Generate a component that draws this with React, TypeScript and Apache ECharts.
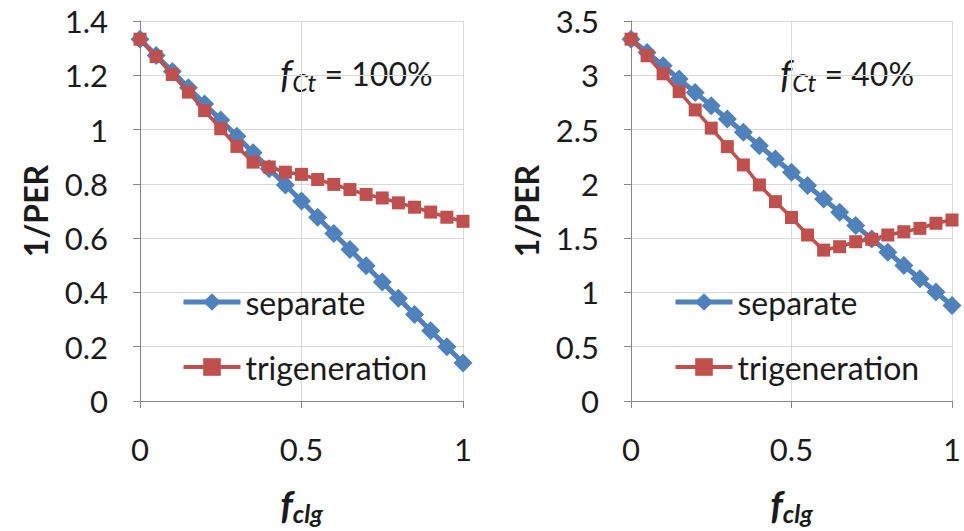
import React, { useEffect, useRef } from "react";
import * as echarts from "echarts";

// Cooling fraction f_clg (shared x values)
const fclg = [0, 0.05, 0.1, 0.15, 0.2, 0.25, 0.3, 0.35, 0.4, 0.45, 0.5, 0.55, 0.6, 0.65, 0.7, 0.75, 0.8, 0.85, 0.9, 0.95, 1];

// f_Ct = 100%
const separate100 = [1.333, 1.273, 1.214, 1.154, 1.094, 1.035, 0.975, 0.915, 0.856, 0.796, 0.737, 0.677, 0.617, 0.558, 0.498, 0.438, 0.379, 0.319, 0.259, 0.2, 0.14];
const trigen100 = [1.333, 1.269, 1.203, 1.138, 1.07, 1.003, 0.938, 0.88, 0.862, 0.843, 0.835, 0.816, 0.798, 0.779, 0.761, 0.748, 0.73, 0.714, 0.696, 0.677, 0.662];

// f_Ct = 40%
const separate40 = [3.333, 3.21, 3.088, 2.965, 2.842, 2.72, 2.597, 2.475, 2.352, 2.229, 2.107, 1.984, 1.861, 1.739, 1.616, 1.493, 1.371, 1.248, 1.126, 1.003, 0.88];
const trigen40 = [3.333, 3.18, 3.014, 2.85, 2.681, 2.513, 2.343, 2.174, 1.99, 1.836, 1.69, 1.529, 1.39, 1.421, 1.467, 1.489, 1.529, 1.559, 1.59, 1.637, 1.667];

const seriesNames = ["separate", "trigeneration"];
const panelLabels = ["100%", "40%"];

const BLUE = "#4f81bd";
const RED = "#c0504d";
const FONT = "Lato, 'Open Sans', sans-serif";
const TEXT = "#1b1b1b";
const AXIS = "#868686";
const GRIDLINE = "#d9d9d9";

const pairs = (ys: number[]) => fclg.map((x, i) => [x, ys[i]]);

export default function App() {
  const ref = useRef<HTMLDivElement>(null);

  useEffect(() => {
    if (!ref.current) return;
    const chart = echarts.init(ref.current, null, { renderer: "svg" });

    const xAxisBase = (gridIndex: number) => ({
      type: "value",
      gridIndex,
      min: 0,
      max: 1,
      interval: 0.5,
      name: "{f|f}{s|clg}",
      nameLocation: "middle",
      nameGap: 82,
      nameTextStyle: {
        rich: {
          f: { fontFamily: FONT, fontSize: 38, fontWeight: "bold", fontStyle: "italic", color: TEXT, lineHeight: 42 },
          s: { fontFamily: FONT, fontSize: 25, fontWeight: "bold", fontStyle: "italic", color: TEXT, lineHeight: 25, verticalAlign: "bottom" },
        },
      },
      axisLine: { show: true, lineStyle: { color: AXIS, width: 1 } },
      axisTick: { show: true, length: 7, lineStyle: { color: AXIS } },
      axisLabel: { fontFamily: FONT, fontSize: 31, color: TEXT, margin: 32 },
      splitLine: { show: true, lineStyle: { color: GRIDLINE, width: 1 } },
    });

    const yAxisBase = (gridIndex: number, max: number, interval: number) => ({
      type: "value",
      gridIndex,
      min: 0,
      max,
      interval,
      name: "1/PER",
      nameLocation: "middle",
      nameRotate: 90,
      nameGap: 89,
      nameTextStyle: { fontFamily: FONT, fontSize: 32, fontWeight: "bold", color: TEXT },
      axisLine: { show: true, lineStyle: { color: AXIS, width: 1 } },
      axisTick: { show: true, length: 7, lineStyle: { color: AXIS } },
      axisLabel: { fontFamily: FONT, fontSize: 31, color: TEXT, margin: 32 },
      splitLine: { show: true, lineStyle: { color: GRIDLINE, width: 1 } },
    });

    const sepSeries = (idx: number, data: number[]) => ({
      name: seriesNames[0],
      type: "line",
      xAxisIndex: idx,
      yAxisIndex: idx,
      data: pairs(data),
      symbol: "diamond",
      symbolSize: 19,
      lineStyle: { color: BLUE, width: 5 },
      itemStyle: { color: BLUE },
      z: 2,
    });

    const triSeries = (idx: number, data: number[]) => ({
      name: seriesNames[1],
      type: "line",
      xAxisIndex: idx,
      yAxisIndex: idx,
      data: pairs(data),
      symbol: "rect",
      symbolSize: 13,
      lineStyle: { color: RED, width: 3.5 },
      itemStyle: { color: RED },
      z: 3,
    });

    const legendBase = (left: number) => ({
      left,
      top: 281,
      orient: "vertical",
      itemWidth: 57,
      itemHeight: 22,
      itemGap: 33,
      selectedMode: false,
      textStyle: { fontFamily: FONT, fontSize: 32, color: TEXT, lineHeight: 32 },
      data: [
        { name: seriesNames[0], lineStyle: { width: 5, color: BLUE } },
        { name: seriesNames[1], lineStyle: { width: 4, color: RED } },
      ],
    });

    const annotation = (x: number, label: string) => ({
      type: "text",
      x,
      y: 73,
      style: {
        text: `{f|f}{s|Ct}{n| = ${label}}`,
        verticalAlign: "middle",
        rich: {
          f: { fontFamily: FONT, fontSize: 38, fontStyle: "italic", fill: TEXT, lineHeight: 42 },
          s: { fontFamily: FONT, fontSize: 25, fontStyle: "italic", fill: TEXT, lineHeight: 25, verticalAlign: "bottom" },
          n: { fontFamily: FONT, fontSize: 32, fill: TEXT, lineHeight: 42 },
        },
      },
    });

    chart.setOption({
      animation: false,
      backgroundColor: "#ffffff",
      grid: [
        { left: 140, top: 21, width: 323, height: 380 },
        { left: 631, top: 21, width: 323, height: 380 },
      ],
      xAxis: [xAxisBase(0), xAxisBase(1)],
      yAxis: [yAxisBase(0, 1.4, 0.2), yAxisBase(1, 3.5, 0.5)],
      legend: [legendBase(176), legendBase(668)],
      series: [
        sepSeries(0, separate100),
        triSeries(0, trigen100),
        sepSeries(1, separate40),
        triSeries(1, trigen40),
      ],
      graphic: [annotation(280, panelLabels[0]), annotation(780, panelLabels[1])],
    });

    return () => chart.dispose();
  }, []);

  return (
    <div
      ref={ref}
      style={{ position: "fixed", left: 0, top: 0, width: 964, height: 531, background: "#fff" }}
    />
  );
}
